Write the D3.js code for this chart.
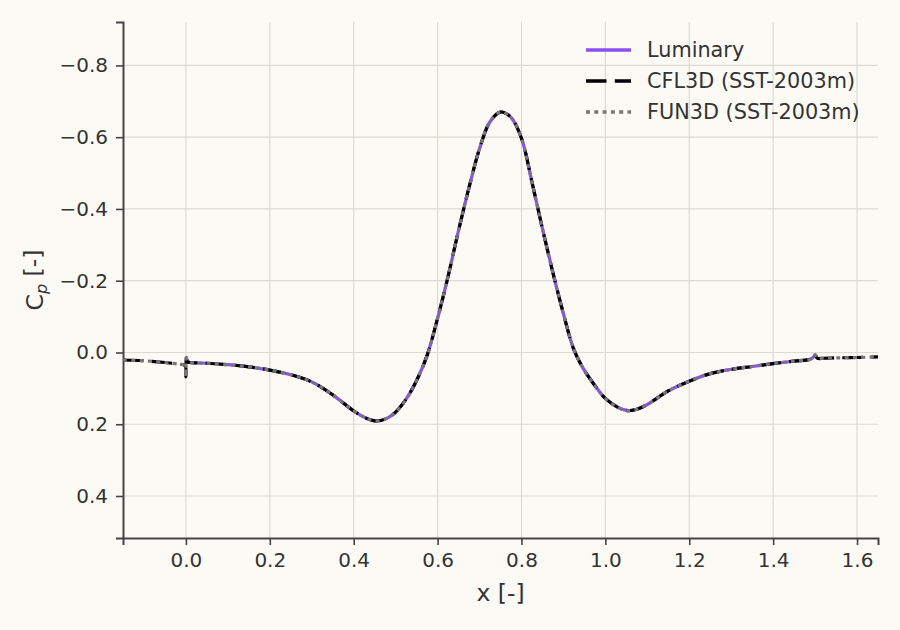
<!DOCTYPE html>
<html>
<head>
<meta charset="utf-8">
<script src="https://cdn.jsdelivr.net/npm/d3@7"></script>
<style>
  body { margin: 0; background: #fbfaf4; }
  svg { display: block; font-family: "DejaVu Sans", sans-serif; }
</style>
</head>
<body>
<div class="chart"></div>
<script>
// wall pressure coefficient along the hump
var xWall = [-0.15, -0.10, -0.05, -0.02, -0.002, 0.0, 0.001, 0.004, 0.01, 0.05, 0.1, 0.15, 0.2, 0.25, 0.3, 0.35, 0.4, 0.43, 0.455, 0.48, 0.5, 0.525, 0.55, 0.575, 0.6, 0.625, 0.65, 0.675, 0.7, 0.725, 0.75, 0.775, 0.8, 0.825, 0.85, 0.875, 0.9, 0.925, 0.95, 0.975, 1.0, 1.03, 1.055, 1.08, 1.1, 1.15, 1.2, 1.25, 1.3, 1.35, 1.4, 1.45, 1.49, 1.5, 1.505, 1.52, 1.55, 1.6, 1.65];
var cpCFL3D = [0.021, 0.023, 0.028, 0.032, 0.037, 0.068, 0.015, 0.026, 0.028, 0.030, 0.034, 0.040, 0.049, 0.062, 0.082, 0.118, 0.163, 0.183, 0.191, 0.183, 0.166, 0.130, 0.078, 0.008, -0.095, -0.212, -0.340, -0.460, -0.568, -0.643, -0.670, -0.655, -0.597, -0.475, -0.345, -0.222, -0.108, -0.008, 0.050, 0.092, 0.128, 0.153, 0.162, 0.156, 0.145, 0.107, 0.080, 0.059, 0.047, 0.039, 0.031, 0.024, 0.018, 0.006, 0.016, 0.016, 0.015, 0.014, 0.012];
var cpFUN3D = [0.021, 0.023, 0.028, 0.032, 0.037, 0.068, 0.015, 0.026, 0.028, 0.030, 0.034, 0.040, 0.049, 0.062, 0.082, 0.118, 0.163, 0.183, 0.191, 0.183, 0.166, 0.130, 0.078, 0.008, -0.095, -0.212, -0.340, -0.460, -0.568, -0.643, -0.670, -0.655, -0.597, -0.475, -0.345, -0.222, -0.108, -0.008, 0.050, 0.092, 0.128, 0.153, 0.162, 0.156, 0.145, 0.107, 0.080, 0.059, 0.047, 0.039, 0.031, 0.024, 0.018, 0.006, 0.016, 0.016, 0.015, 0.014, 0.012];

// Luminary only covers the bump itself
var xLum = [0.0, 0.004, 0.01, 0.05, 0.1, 0.15, 0.2, 0.25, 0.3, 0.35, 0.4, 0.43, 0.455, 0.48, 0.5, 0.525, 0.55, 0.575, 0.6, 0.625, 0.65, 0.675, 0.7, 0.725, 0.75, 0.775, 0.8, 0.825, 0.85, 0.875, 0.9, 0.925, 0.95, 0.975, 1.0, 1.03, 1.055, 1.08, 1.1, 1.15, 1.2, 1.25, 1.3, 1.35, 1.4, 1.45, 1.49, 1.5];
var cpLum = [0.012, 0.026, 0.028, 0.030, 0.034, 0.040, 0.049, 0.062, 0.082, 0.118, 0.163, 0.183, 0.191, 0.183, 0.166, 0.130, 0.078, 0.008, -0.095, -0.212, -0.340, -0.460, -0.568, -0.643, -0.670, -0.655, -0.597, -0.475, -0.345, -0.222, -0.108, -0.008, 0.050, 0.092, 0.128, 0.153, 0.162, 0.156, 0.145, 0.107, 0.080, 0.059, 0.047, 0.039, 0.031, 0.024, 0.018, 0.008];

var xTicks = [0.0, 0.2, 0.4, 0.6, 0.8, 1.0, 1.2, 1.4, 1.6];
var yTicks = [-0.8, -0.6, -0.4, -0.2, 0.0, 0.2, 0.4];

var seriesNames = ["Luminary", "CFL3D (SST-2003m)", "FUN3D (SST-2003m)"];
var seriesColors = ["#8a4ff5", "#000000", "#777777"];
var seriesDash = [null, "20.5,8.3", "4,4.3"];

var width = 900, height = 630;
var margin = {top: 22, right: 22, bottom: 92, left: 123};

var svg = d3.select(".chart").append("svg")
  .attr("width", width)
  .attr("height", height)
  .style("background", "#fbfaf4");

var x = d3.scaleLinear().domain([-0.15, 1.65]).range([margin.left, width - margin.right]);
var y = d3.scaleLinear().domain([-0.921, 0.517]).range([margin.top, height - margin.bottom]);

// grid
svg.append("g").selectAll("line").data(xTicks).enter().append("line")
  .attr("x1", function(d) { return x(d); })
  .attr("x2", function(d) { return x(d); })
  .attr("y1", margin.top)
  .attr("y2", height - margin.bottom)
  .attr("stroke", "#dcdbd3")
  .attr("stroke-width", 1.2);
svg.append("g").selectAll("line").data(yTicks).enter().append("line")
  .attr("y1", function(d) { return y(d); })
  .attr("y2", function(d) { return y(d); })
  .attr("x1", margin.left)
  .attr("x2", width - margin.right)
  .attr("stroke", "#dcdbd3")
  .attr("stroke-width", 1.2);

// axes
var fmt = d3.format(".1f");
var xAxis = svg.append("g")
  .attr("transform", "translate(0," + (height - margin.bottom) + ")")
  .call(d3.axisBottom(x).tickValues(xTicks).tickFormat(fmt).tickSizeOuter(0).tickSize(7).tickPadding(8));
var yAxis = svg.append("g")
  .attr("transform", "translate(" + margin.left + ",0)")
  .call(d3.axisLeft(y).tickValues(yTicks).tickFormat(fmt).tickSizeOuter(0).tickSize(7).tickPadding(8));

[xAxis, yAxis].forEach(function(a) {
  a.select(".domain").attr("stroke", "#444").attr("stroke-width", 2);
  a.selectAll(".tick line").attr("stroke", "#444").attr("stroke-width", 1.6);
  a.selectAll(".tick text")
    .attr("fill", "#333")
    .style("font-size", "20px")
    .style("font-family", "DejaVu Sans");
});

// lines
svg.append("clipPath").attr("id", "plotclip").append("rect")
  .attr("x", margin.left).attr("y", margin.top)
  .attr("width", width - margin.left - margin.right)
  .attr("height", height - margin.top - margin.bottom);

var line = d3.line()
  .x(function(d) { return x(d[0]); })
  .y(function(d) { return y(d[1]); })
  .curve(d3.curveCatmullRom.alpha(0.5));

var curves = [d3.zip(xLum, cpLum), d3.zip(xWall, cpCFL3D), d3.zip(xWall, cpFUN3D)];

svg.append("g").attr("clip-path", "url(#plotclip)")
  .selectAll("path").data(curves).enter().append("path")
  .attr("d", function(d) { return line(d); })
  .attr("fill", "none")
  .attr("stroke", function(d, i) { return seriesColors[i]; })
  .attr("stroke-width", 3.2)
  .attr("stroke-dasharray", function(d, i) { return seriesDash[i]; });

// legend
var legend = svg.append("g").attr("transform", "translate(586,50)");
var items = legend.selectAll("g").data(seriesNames).enter().append("g")
  .attr("transform", function(d, i) { return "translate(0," + (i * 31) + ")"; });
items.append("line")
  .attr("x1", 0).attr("x2", 45).attr("y1", 0).attr("y2", 0)
  .attr("stroke", function(d, i) { return seriesColors[i]; })
  .attr("stroke-width", 3.6)
  .attr("stroke-dasharray", function(d, i) { return seriesDash[i]; });
items.append("text")
  .attr("x", 61).attr("y", 0).attr("dy", "0.35em")
  .attr("fill", "#333")
  .style("font-size", "20.8px")
  .text(function(d) { return d; });

// axis titles
svg.append("text")
  .attr("x", (margin.left + width - margin.right) / 2)
  .attr("y", 601)
  .attr("text-anchor", "middle")
  .attr("fill", "#333")
  .style("font-size", "23.5px")
  .text("x [-]");

var ylab = svg.append("text")
  .attr("transform", "translate(43," + ((margin.top + height - margin.bottom) / 2) + ") rotate(-90)")
  .attr("text-anchor", "middle")
  .attr("fill", "#333")
  .style("font-size", "23.5px");
ylab.append("tspan").text("C");
ylab.append("tspan").attr("dy", "0.25em").style("font-style", "italic").style("font-size", "16px").text("p");
ylab.append("tspan").attr("dy", "-0.25em").text(" [-]");
</script>
</body>
</html>
